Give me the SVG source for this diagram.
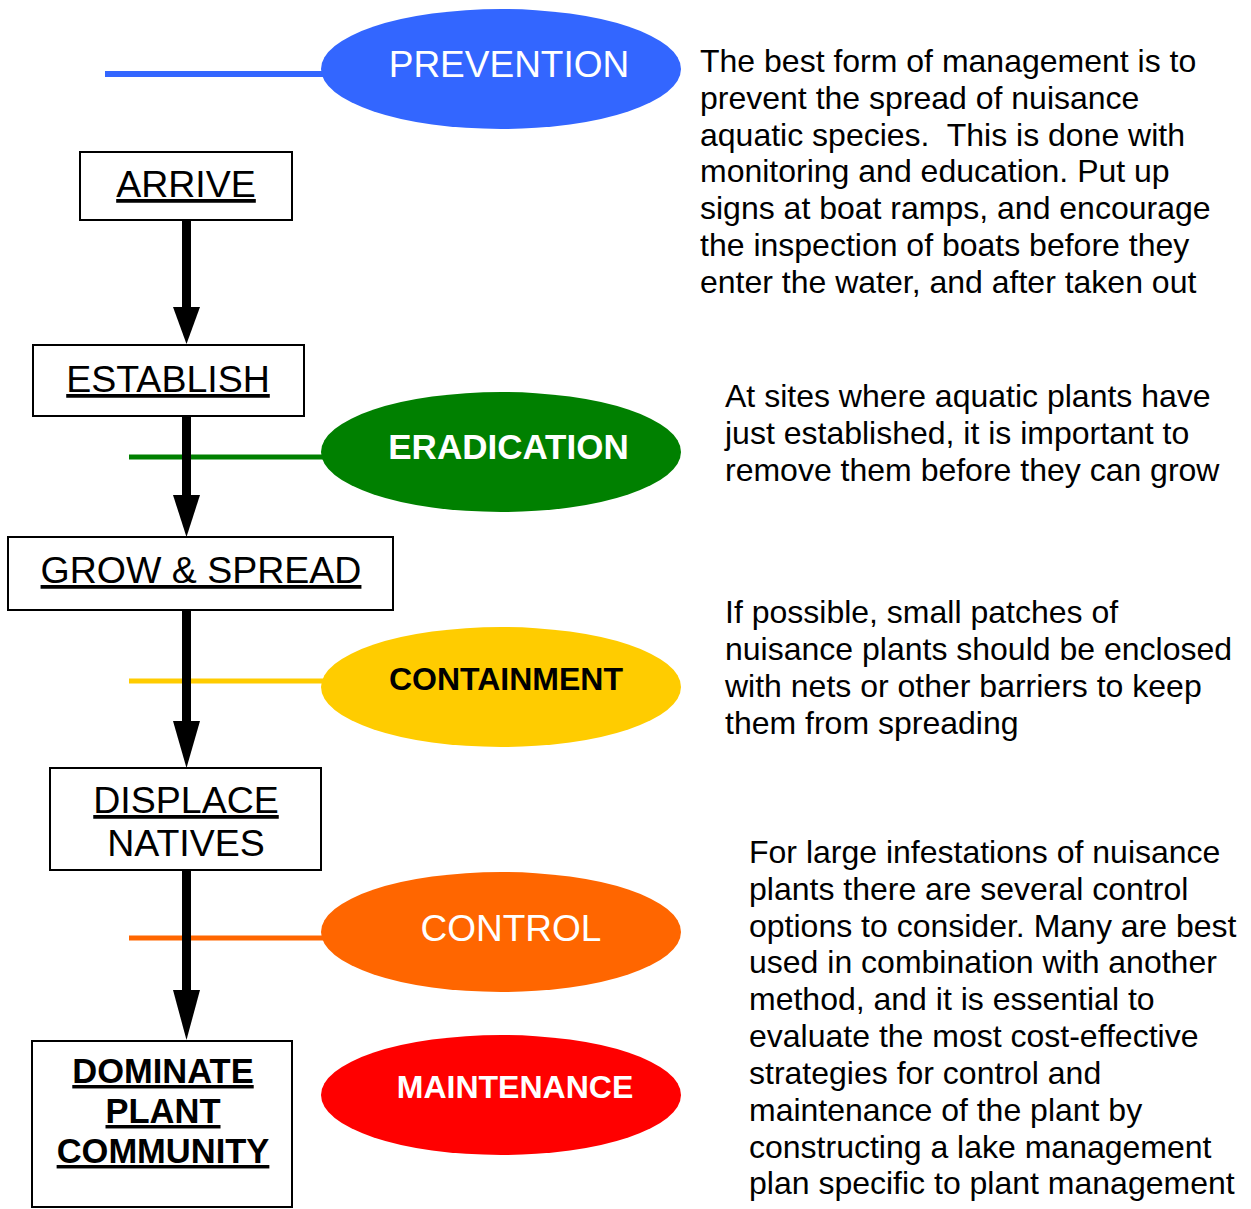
<svg xmlns="http://www.w3.org/2000/svg" width="1251" height="1209" viewBox="0 0 1251 1209">
<style>
  .box { fill: #fff; stroke: #000; stroke-width: 2; }
  .lbl { font-family: "Liberation Sans", Arial, sans-serif; font-size: 37.5px; fill: #000; text-anchor: middle; }
  .u { text-decoration: underline; }
  .bold { font-weight: bold; font-size: 34.5px; }
  .ell { font-family: "Liberation Sans", Arial, sans-serif; text-anchor: middle; }
  .para { font-family: "Liberation Sans", Arial, sans-serif; font-size: 32px; fill: #000; }
  .shaft { stroke: #000; stroke-width: 9; fill: none; }
  .head { fill: #000; }
</style>
<rect width="1251" height="1209" fill="#fff"/>

<g id="connectors">
  <line x1="105" y1="74" x2="330" y2="74" stroke="#3366FF" stroke-width="6"/>
  <line x1="129" y1="457" x2="330" y2="457" stroke="#008000" stroke-width="5"/>
  <line x1="129" y1="681" x2="330" y2="681" stroke="#FFCC00" stroke-width="5"/>
  <line x1="129" y1="938" x2="330" y2="938" stroke="#FF6600" stroke-width="5"/>
  <line class="shaft" x1="186.5" y1="220" x2="186.5" y2="309"/>
  <polygon class="head" points="173,307 200,307 186.5,344"/>
  <line class="shaft" x1="186.5" y1="416" x2="186.5" y2="497"/>
  <polygon class="head" points="173,495 200,495 186.5,537"/>
  <line class="shaft" x1="186.5" y1="610" x2="186.5" y2="723"/>
  <polygon class="head" points="173,721 200,721 186.5,768"/>
  <line class="shaft" x1="186.5" y1="870" x2="186.5" y2="992"/>
  <polygon class="head" points="173,990 200,990 186.5,1040"/>
</g>

<g id="arrive">
  <rect class="box" x="80" y="152" width="212" height="68"/>
  <text class="lbl u" x="186" y="197">ARRIVE</text>
</g>
<g id="establish">
  <rect class="box" x="33" y="345" width="271" height="71"/>
  <text class="lbl u" x="168" y="392">ESTABLISH</text>
</g>
<g id="grow">
  <rect class="box" x="8" y="537" width="385" height="73"/>
  <text class="lbl u" x="201" y="583">GROW &amp; SPREAD</text>
</g>
<g id="displace">
  <rect class="box" x="50" y="768" width="271" height="102"/>
  <text class="lbl u" x="186" y="813">DISPLACE</text>
  <text class="lbl" x="186" y="856">NATIVES</text>
</g>
<g id="dominate">
  <rect class="box" x="32" y="1041" width="260" height="166"/>
  <text class="lbl bold u" x="163" y="1083">DOMINATE</text>
  <text class="lbl bold u" x="163" y="1123">PLANT</text>
  <text class="lbl bold u" x="163" y="1163">COMMUNITY</text>
</g>

<g id="prevention">
  <ellipse cx="501" cy="69" rx="180" ry="60" fill="#3366FF"/>
  <text class="ell" x="509" y="77" font-size="37" fill="#fff">PREVENTION</text>
</g>
<g id="eradication">
  <ellipse cx="501" cy="452" rx="180" ry="60" fill="#008000"/>
  <text class="ell" x="508.5" y="459" font-size="35" font-weight="bold" fill="#fff">ERADICATION</text>
</g>
<g id="containment">
  <ellipse cx="501" cy="687" rx="180" ry="60" fill="#FFCC00"/>
  <text class="ell" x="506" y="690" font-size="32" font-weight="bold" fill="#000">CONTAINMENT</text>
</g>
<g id="control">
  <ellipse cx="501" cy="932" rx="180" ry="60" fill="#FF6600"/>
  <text class="ell" x="511" y="941" font-size="37" fill="#fff">CONTROL</text>
</g>
<g id="maintenance">
  <ellipse cx="501" cy="1095" rx="180" ry="60" fill="#FF0000"/>
  <text class="ell" x="515" y="1098" font-size="32" font-weight="bold" fill="#fff">MAINTENANCE</text>
</g>

<g id="text-prevention">
  <text class="para" x="700" y="72">The best form of management is to</text>
  <text class="para" x="700" y="109">prevent the spread of nuisance</text>
  <text class="para" x="700" y="145.5" xml:space="preserve">aquatic species.  This is done with</text>
  <text class="para" x="700" y="182">monitoring and education. Put up</text>
  <text class="para" x="700" y="219">signs at boat ramps, and encourage</text>
  <text class="para" x="700" y="256">the inspection of boats before they</text>
  <text class="para" x="700" y="293">enter the water, and after taken out</text>
</g>
<g id="text-eradication">
  <text class="para" x="725" y="407">At sites where aquatic plants have</text>
  <text class="para" x="725" y="444">just established, it is important to</text>
  <text class="para" x="725" y="481">remove them before they can grow</text>
</g>
<g id="text-containment">
  <text class="para" x="725" y="623">If possible, small patches of</text>
  <text class="para" x="725" y="660">nuisance plants should be enclosed</text>
  <text class="para" x="725" y="697">with nets or other barriers to keep</text>
  <text class="para" x="725" y="734">them from spreading</text>
</g>
<g id="text-control">
  <text class="para" x="749" y="863">For large infestations of nuisance</text>
  <text class="para" x="749" y="900">plants there are several control</text>
  <text class="para" x="749" y="937">options to consider. Many are best</text>
  <text class="para" x="749" y="973">used in combination with another</text>
  <text class="para" x="749" y="1010">method, and it is essential to</text>
  <text class="para" x="749" y="1047">evaluate the most cost-effective</text>
  <text class="para" x="749" y="1084">strategies for control and</text>
  <text class="para" x="749" y="1121">maintenance of the plant by</text>
  <text class="para" x="749" y="1158">constructing a lake management</text>
  <text class="para" x="749" y="1194">plan specific to plant management</text>
</g>
</svg>
